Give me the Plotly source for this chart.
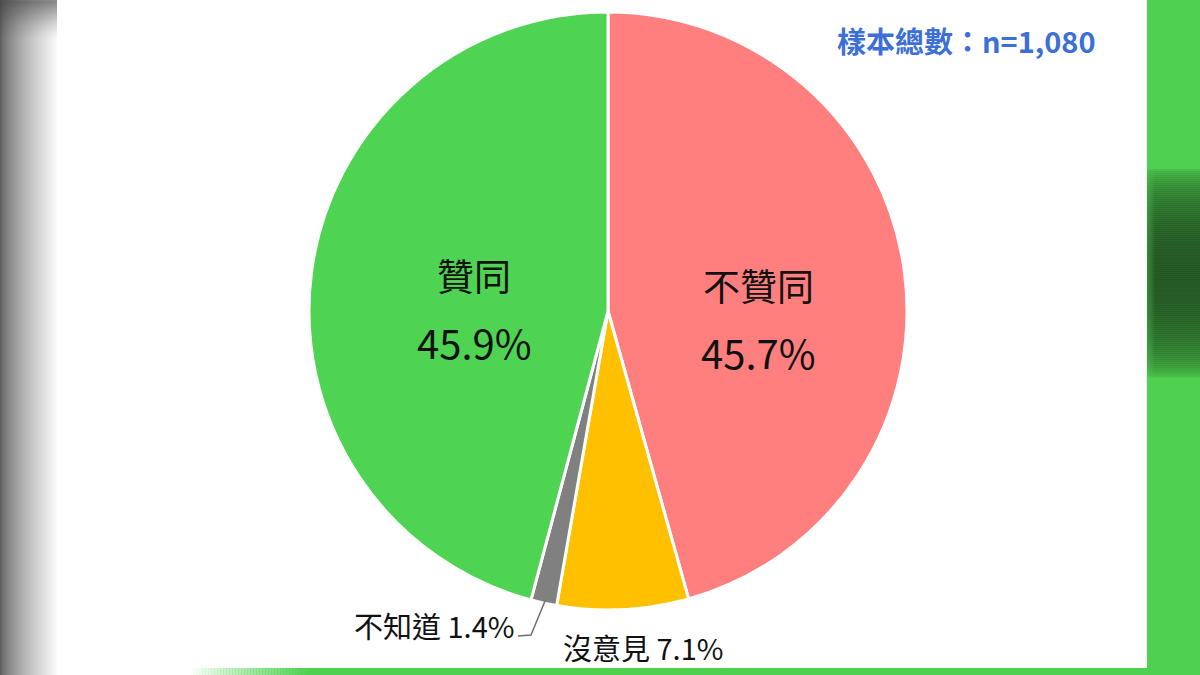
import plotly.graph_objects as go

# slices, clockwise from 12 o'clock
labels = ['不贊同', '沒意見', '不知道', '贊同']
values = [45.7, 7.1, 1.4, 45.9]
colors = ['#ff7f7f', '#ffc000', '#808080', '#4fd352']
sample_note = '樣本總數：n=1,080'

W, H = 1200, 675
FONT = 'Noto Sans CJK TC'


def px(x, y):
    return x / W, 1 - y / H


fig = go.Figure(go.Pie(
    labels=labels,
    values=values,
    sort=False,
    direction='clockwise',
    rotation=0,
    marker=dict(colors=colors, line=dict(color='white', width=3)),
    textinfo='none',
    hoverinfo='label+percent',
    showlegend=False,
    domain=dict(x=[309 / W, 907 / W], y=[1 - 610 / H, 1 - 12 / H]),
))

shapes = []


def rect(x0, y0, x1, y1, color):
    shapes.append(dict(type='rect', xref='paper', yref='paper',
                       x0=x0 / W, x1=x1 / W, y0=1 - y1 / H, y1=1 - y0 / H,
                       fillcolor=color, line_width=0))


# left blurred frame edge, 1px columns
for i in range(57):
    t = i / 56
    g = int(95 + (250 - 95) * t ** 0.7)
    rect(i, 0, i + 1.2, H, f'rgb({g},{g},{g})')
# darker top band on the left
for j in range(40):
    a = 0.55 * (1 - j / 40) ** 1.5
    rect(0, j, 57, j + 1.2, f'rgba(60,60,60,{a:.3f})')

# right green strip with a soft dark blob
rect(1147, 0, W, H, '#4fd14f')
for j in range(165, 380, 2):
    d = abs(j - 272) / 105
    if d < 1:
        a = 0.8 * (1 - d ** 2) ** 0.6
        rect(1147, j, W, j + 2.2, f'rgba(28,62,28,{a:.3f})')
# lighter left rim where the blob fades
for i in range(8):
    a = 0.35 * (1 - i / 8)
    rect(1147 + i, 165, 1148.2 + i, 380, f'rgba(79,209,79,{a:.3f})')

# bottom green strip fading in from the left
for i in range(40):
    a = (i + 1) / 40
    rect(190 + i * 3, 668, 193.5 + i * 3, H, f'rgba(79,209,79,{a:.3f})')
rect(310, 668, 1147, H, '#4fd14f')

# leader line for the small slice
x1, y1 = px(545, 601)
x2, y2 = px(531, 635)
x3, y3 = px(518, 636)
shapes.append(dict(type='path', xref='paper', yref='paper',
                   path=f'M {x1},{y1} L {x2},{y2} L {x3},{y3}',
                   line=dict(color='#6e6e6e', width=1.5)))

annotations = []


def add_text(text, x, y, size, color='#111111', xanchor='center', weight='normal'):
    ax, ay = px(x, y)
    annotations.append(dict(text=text, x=ax, y=ay, xref='paper', yref='paper',
                            xanchor=xanchor, yanchor='middle', showarrow=False,
                            font=dict(family=FONT, size=size, color=color, weight=weight)))


add_text(labels[3], 474, 275, 37)
add_text(f'{values[3]}%', 474, 342, 40)
add_text(labels[0], 759, 285, 37)
add_text(f'{values[0]}%', 759, 352, 40)
add_text(f'{labels[2]} {values[2]}%', 516, 625, 29, xanchor='right')
add_text(f'{labels[1]} {values[1]}%', 561, 647, 29, xanchor='left')
add_text(sample_note, 1098, 40, 29, color='#3d6fd8', xanchor='right', weight='bold')

fig.update_layout(
    width=W, height=H,
    margin=dict(l=0, r=0, t=0, b=0),
    paper_bgcolor='white',
    plot_bgcolor='white',
    shapes=shapes,
    annotations=annotations,
)

fig.write_html('out.html', config={'displayModeBar': False},
               post_script="document.body.style.margin='0';document.body.style.overflow='hidden';")
